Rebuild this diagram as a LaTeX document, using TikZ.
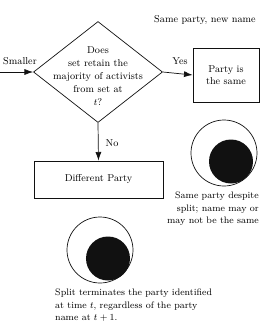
\documentclass[tikz,border=0pt]{standalone}
\usepackage{amsmath}
\usepackage{tikz}
\usepackage{xcolor}
\usetikzlibrary{arrows.meta,positioning,calc,shapes.geometric}
\definecolor{inkblack}{HTML}{111111}
\tikzset{
  decision/.style  = {diamond, draw=inkblack, line width=0.6pt, inner sep=0pt,
                       minimum width=3.87cm, minimum height=3.03cm},
  qtext/.style     = {align=center, font=\fontsize{8.5}{11.2}\selectfont, inner sep=0pt},
  outbox/.style    = {rectangle, draw=inkblack, line width=0.6pt, align=center,
                       font=\fontsize{8.5}{10.5}\selectfont},
  flowarrow/.style = {-{Latex[length=2.6mm,width=1.8mm]}, line width=0.6pt, inkblack},
  flowlbl/.style   = {font=\fontsize{8.5}{10}\selectfont, inner sep=0pt},
  caption/.style   = {font=\fontsize{8}{10.6}\selectfont, inner sep=0pt},
  ringouter/.style = {circle, draw=inkblack, line width=0.6pt, inner sep=0pt, minimum size=1.98cm},
  ringinner/.style = {circle, fill=inkblack, inner sep=0pt, minimum size=1.32cm},
}
\begin{document}
\begin{tikzpicture}[x=0.03cm, y=-0.03cm]
\useasboundingbox (0,0) rectangle (268,331);
% decision
\node[decision] (q) at (98,72) {};
\node[qtext] (qlbl) at (98,76) {Does\\set retain the\\majority of activists\\from set at\\$t$?};
\coordinate (src) at (0,72);
\draw[flowarrow] (src) -- (q.west);
\node[flowlbl] (lsmall) at (20,61) {Smaller};

% yes branch
\node[outbox, minimum width=1.98cm, minimum height=1.62cm] (same) at (226,75) {Party is\\the same};
\draw[flowarrow] (q.east) -- (same.west);
\node[flowlbl] (lyes) at (180,61) {Yes};
\node[flowlbl] (lnew) at (205,20) {Same party, new name};

% no branch
\node[outbox, minimum width=3.87cm, minimum height=1.11cm] (diff) at (98.5,179.5) {Different Party};
\draw[flowarrow] (q.south) -- (diff.north);
\node[flowlbl] (lno) at (112,143) {No};

% split pictures
\node[ringouter] (ra) at (224,153) {};
\node[ringinner] (rai) at (231,161.5) {};
\node[caption, align=right, anchor=north east] (ca) at (259,192)
  {Same party despite\\split; name may or\\may not be the same};

\node[ringouter] (rb) at (100,250) {};
\node[ringinner] (rbi) at (108,258.5) {};
\node[caption, align=left, anchor=north west] (cb) at (55,289)
  {Split terminates the party identified\\at time $t$, regardless of the party\\name at $t+1$.};
\end{tikzpicture}
\end{document}
